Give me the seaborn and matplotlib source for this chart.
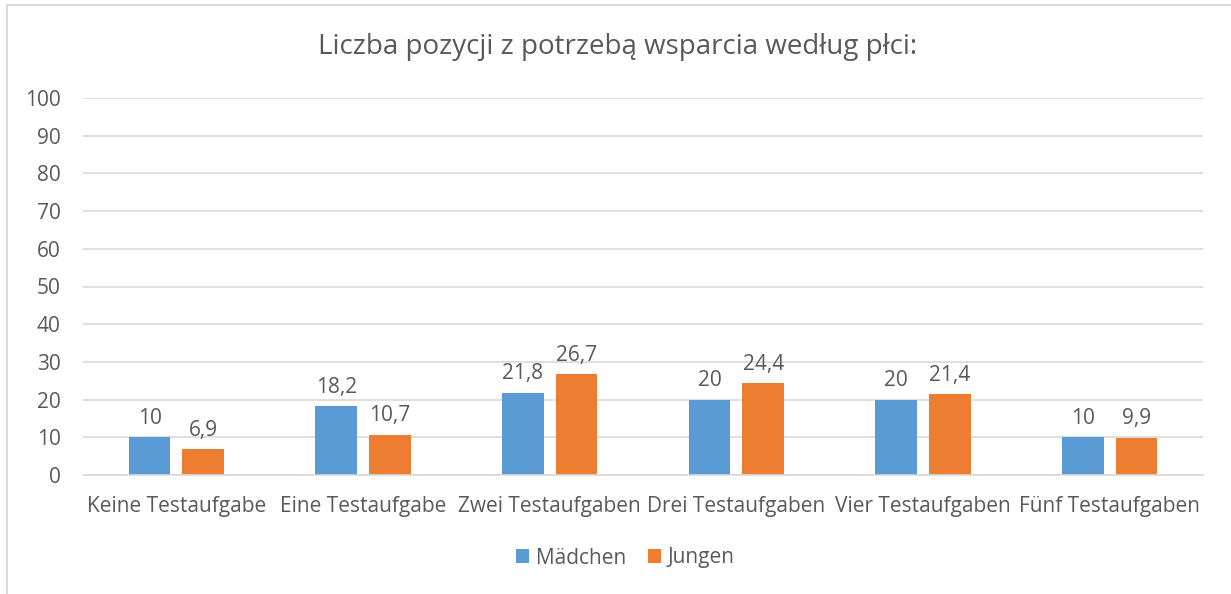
import matplotlib
matplotlib.use("Agg")
import matplotlib.pyplot as plt
import seaborn as sns
import pandas as pd
from matplotlib.patches import Rectangle

categories = ["Keine Testaufgabe", "Eine Testaufgabe", "Zwei Testaufgaben",
              "Drei Testaufgaben", "Vier Testaufgaben", "Fünf Testaufgaben"]
maedchen = [10, 18.2, 21.8, 20, 20, 10]
jungen = [6.9, 10.7, 26.7, 24.4, 21.4, 9.9]
series = ["Mädchen", "Jungen"]
colors = ["#5B9BD5", "#ED7D31"]
title = "Liczba pozycji z potrzebą wsparcia według płci:"

df = pd.DataFrame({
    "cat": categories * 2,
    "val": maedchen + jungen,
    "ser": [series[0]] * len(categories) + [series[1]] * len(categories),
})

sns.set_theme(style="white")
plt.rcParams["font.family"] = ["Open Sans", "DejaVu Sans"]
txt = "#595959"
fs = 15

fig = plt.figure(figsize=(12.31, 5.94), dpi=100)
ax = fig.add_axes([83/1231, 1-475/594, 1120/1231, 377/594])
sns.barplot(data=df, x="cat", y="val", hue="ser", palette=colors, ax=ax,
            width=0.575, gap=0.22, saturation=1, legend=True, linewidth=0)

ax.set_ylim(0, 100)
ax.set_yticks(range(0, 101, 10))
ax.yaxis.grid(True, color="#D9D9D9", linewidth=1.2)
ax.set_axisbelow(True)
for s in ["top", "right", "left"]:
    ax.spines[s].set_visible(False)
ax.spines["bottom"].set_color("#D9D9D9")
ax.spines["bottom"].set_linewidth(1.2)
ax.set_xlabel("")
ax.set_ylabel("")
ax.tick_params(axis="both", length=0, labelsize=fs, colors=txt)
ax.tick_params(axis="x", pad=15)
ax.tick_params(axis="y", pad=16)

for cont in ax.containers:
    labels = [("%g" % b.get_height()).replace(".", ",") for b in cont]
    ax.bar_label(cont, labels=labels, padding=6, fontsize=fs, color=txt)

fig.text(618/1231, 1-47/594, title, ha="center", va="center", fontsize=20, color=txt)

handles, labs = ax.get_legend_handles_labels()
ax.legend(handles, labs, loc="center", bbox_to_anchor=(0.484, 1-(558-98)/377), ncol=2,
          frameon=False, fontsize=fs, labelcolor=txt, handlelength=0.65, handleheight=0.65,
          handletextpad=0.3, columnspacing=1.05)

fig.patches.append(Rectangle((7/1231, -0.1), 1.1, 1-5/594+0.1, transform=fig.transFigure,
                             fill=False, edgecolor="#D9D9D9", linewidth=1.5))

fig.savefig("out.png", dpi=100)
